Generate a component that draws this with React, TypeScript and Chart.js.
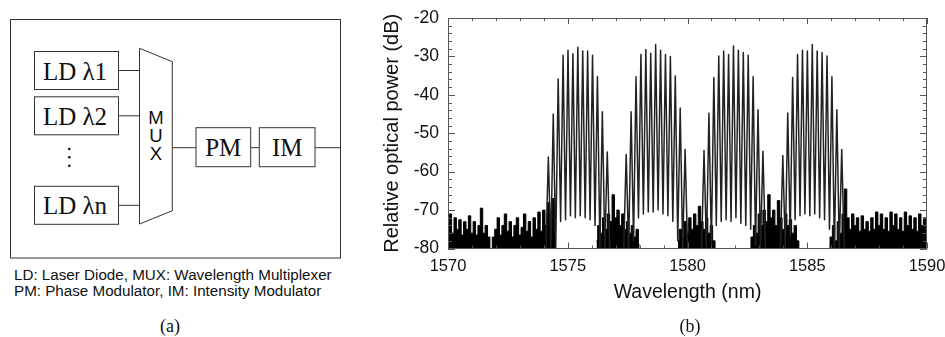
import React, { useEffect, useRef } from "react";
import { Chart, registerables } from "chart.js";

Chart.register(...registerables);

// ---------- axis ranges & tick labels ----------
const xMin = 1570;
const xMax = 1590;
const xMajorStep = 5;
const yMin = -80;
const yMax = -20;
const yMajorStep = 10;

// ---------- noise floor (dB), 0.1 nm sampling, per region ----------
const noiseStep = 0.1;
const noiseLeftStart = 1570.0;
const noiseLeft = [
  -74, -71, -76, -72, -75, -72.5, -76.5, -73, -75, -71.5,
  -76, -73, -76.5, -74, -69.5, -76, -74, -77, -80, -77,
  -75, -72, -76.5, -74, -71, -75.5, -73, -77, -74, -72,
  -76.5, -74.5, -71, -75.5, -73, -77, -72, -75, -70.5, -75.5,
  -70, -74, -68, -72, -67, -76,
];
const noiseGap1Start = 1576.2;
const noiseGap1 = [
  -78, -74, -76, -72, -75, -71, -73, -66, -72, -70,
  -74, -71, -75, -73, -76, -74, -77, -75, -79,
];
const noiseGap2Start = 1579.6;
const noiseGap2 = [
  -78, -75, -77, -73, -76, -72, -75, -71, -74, -69,
  -73, -75, -72, -76, -74, -78, -80,
];
const noiseGap3Start = 1582.6;
const noiseGap3 = [
  -80, -77, -74, -76, -71, -74, -70, -73, -66, -72,
  -70, -74, -67.5, -72, -75, -71, -74, -72.5, -76, -74,
  -78, -80,
];
const noiseRightStart = 1585.9;
const noiseRight = [
  -80, -77, -74, -78, -73, -76, -71, -64.5, -72, -75,
  -71, -74, -72, -75.5, -71.5, -75, -73, -75.5, -72, -75,
  -70.5, -74, -71, -75, -72, -75.5, -70.5, -74, -71, -75,
  -72, -75.5, -70.5, -74, -71.5, -75, -72, -75.5, -71, -74,
  -72, -75,
];

// ---------- frequency combs ----------
const combCenters = [1575.42, 1578.67, 1581.92, 1585.21];
const combSpacing = 0.205; // nm between comb lines
const comb1Peaks = [-56.2, -45.0, -35.9, -29.7, -28.4, -29.3, -27.6, -28.6, -28.6, -29.7, -35.3, -44.4, -54.9];
const comb2Peaks = [-55.5, -44.4, -35.3, -29.5, -28.2, -29.2, -26.9, -28.4, -29.5, -30.0, -35.1, -43.4, -54.2];
const comb3Peaks = [-54.5, -44.8, -35.5, -29.9, -28.6, -29.5, -27.3, -28.4, -29.0, -29.7, -35.3, -43.9, -54.7];
const comb4Peaks = [-55.8, -44.7, -35.5, -29.5, -28.4, -28.6, -26.9, -28.6, -29.0, -29.9, -35.3, -43.9, -54.2];
const comb1Valleys = [-80, -80, -80, -73, -72.5, -71.5, -72, -71.5, -72, -72.5, -74, -80, -80, -80];
const comb2Valleys = [-80, -80, -78, -72, -71, -70.5, -70.5, -70, -71, -71.5, -73, -78, -80, -80];
const comb3Valleys = [-80, -80, -79, -74, -73, -72.5, -73, -72, -73.5, -74, -75, -79, -80, -80];
const comb4Valleys = [-80, -80, -77, -72.5, -71.5, -71, -71.5, -71, -72, -72.5, -75, -80, -80, -80];

const combPeaks = [comb1Peaks, comb2Peaks, comb3Peaks, comb4Peaks];
const combValleys = [comb1Valleys, comb2Valleys, comb3Valleys, comb4Valleys];

const SANS = '"Liberation Sans", Arial, Helvetica, sans-serif';
const SERIF = '"Liberation Serif", "Times New Roman", Times, serif';

function noisePoints(start: number, values: number[]) {
  return values.map((v, i) => ({ x: +(start + i * noiseStep).toFixed(3), y: v }));
}

function combPoints(ci: number) {
  const peaks = combPeaks[ci];
  const valleys = combValleys[ci];
  const half = peaks.length >> 1;
  const pts: { x: number; y: number }[] = [];
  peaks.forEach((p, k) => {
    const lam = combCenters[ci] + (k - half) * combSpacing;
    pts.push({ x: lam - combSpacing / 2, y: valleys[k] });
    pts.push({ x: lam, y: p });
  });
  const lastLam = combCenters[ci] + (peaks.length - 1 - half) * combSpacing;
  pts.push({ x: lastLam + combSpacing / 2, y: valleys[peaks.length] });
  return pts;
}

const frameTicks = {
  id: "frameTicks",
  afterDatasetsDraw(chart: any) {
    const { ctx, chartArea: a, scales } = chart;
    const x = scales.x;
    const y = scales.y;
    ctx.save();
    ctx.strokeStyle = "#555";
    ctx.lineWidth = 1;
    ctx.beginPath();
    for (let v = yMin; v <= yMax; v += 2) {
      const py = Math.round(y.getPixelForValue(v)) + 0.5;
      const len = v % yMajorStep === 0 ? 7 : 4;
      ctx.moveTo(a.left, py);
      ctx.lineTo(a.left + len, py);
      ctx.moveTo(a.right, py);
      ctx.lineTo(a.right - len, py);
    }
    for (let v = xMin; v <= xMax; v += 1) {
      const px = Math.round(x.getPixelForValue(v)) + 0.5;
      const len = v % xMajorStep === 0 ? 6 : 3;
      ctx.moveTo(px, a.top);
      ctx.lineTo(px, a.top + len);
      ctx.moveTo(px, a.bottom);
      ctx.lineTo(px, a.bottom - len);
    }
    ctx.stroke();
    ctx.strokeRect(Math.round(a.left) + 0.5, Math.round(a.top) + 0.5, Math.round(a.width) - 1, Math.round(a.height) - 1);
    ctx.restore();
  },
};

function SpectrumChart() {
  const ref = useRef<HTMLCanvasElement | null>(null);
  useEffect(() => {
    if (!ref.current) return;
    const combSets = [0, 1, 2, 3].map((ci) => ({
      data: combPoints(ci),
      borderColor: "#222",
      borderWidth: 1.5,
      pointRadius: 0,
      fill: false,
      borderJoinStyle: "round" as const,
      tension: 0,
    }));
    const noiseSets = [
      noisePoints(noiseLeftStart, noiseLeft),
      noisePoints(noiseGap1Start, noiseGap1),
      noisePoints(noiseGap2Start, noiseGap2),
      noisePoints(noiseGap3Start, noiseGap3),
      noisePoints(noiseRightStart, noiseRight),
    ].map((d) => ({
      data: d,
      borderColor: "#000",
      backgroundColor: "#000",
      borderWidth: 1,
      pointRadius: 0,
      fill: "start" as const,
      stepped: "middle" as const,
      tension: 0,
    }));
    const chart = new Chart(ref.current, {
      type: "line",
      data: { datasets: [...combSets, ...noiseSets] as any },
      options: {
        animation: false,
        responsive: false,
        devicePixelRatio: 1,
        parsing: false,
        layout: { padding: { left: 0, right: 18, top: 18, bottom: 33 } },
        plugins: { legend: { display: false }, tooltip: { enabled: false } },
        scales: {
          x: {
            type: "linear",
            min: xMin,
            max: xMax,
            ticks: {
              stepSize: xMajorStep,
              autoSkip: false,
              maxRotation: 0,
              padding: 8,
              color: "#111",
              font: { family: SANS, size: 16.5 },
              callback: (v: any) => String(v),
            },
            grid: { display: false, drawTicks: false },
            border: { display: false },
            title: {
              display: true,
              text: "Wavelength (nm)",
              color: "#111",
              padding: 0,
              font: { family: SANS, size: 19.5 },
            },
            afterFit: (s: any) => {
              s.height = 55.5;
              s.paddingLeft = 0;
              s.paddingRight = 0;
            },
          },
          y: {
            type: "linear",
            min: yMin,
            max: yMax,
            ticks: {
              stepSize: yMajorStep,
              padding: 9,
              color: "#111",
              font: { family: SANS, size: 17.5 },
              callback: (v: any) => String(v),
            },
            grid: { display: false, drawTicks: false },
            border: { display: false },
            title: {
              display: true,
              text: "Relative optical power (dB)",
              color: "#111",
              padding: 0,
              font: { family: SANS, size: 20 },
            },
            afterFit: (s: any) => {
              s.width = 68;
              s.paddingTop = 0;
              s.paddingBottom = 0;
            },
          },
        },
      },
      plugins: [frameTicks],
    });
    return () => chart.destroy();
  }, []);
  return (
    <canvas
      ref={ref}
      width={565}
      height={337}
      style={{ position: "absolute", left: 380, top: 0, width: 565, height: 337 }}
    />
  );
}

function Diagram() {
  const stroke = "#333";
  const sw = 1;
  const ldBoxes = [
    { y: 51.5, label: "LD λ1" },
    { y: 96.8, label: "LD λ2" },
    { y: 186.3, label: "LD λn" },
  ];
  const lineY = 147.7;
  return (
    <svg
      width={380}
      height={337}
      style={{ position: "absolute", left: 0, top: 0 }}
      xmlns="http://www.w3.org/2000/svg"
    >
      <rect x={10.5} y={19.5} width={330} height={238.5} fill="none" stroke={stroke} strokeWidth={sw} />
      {ldBoxes.map((b, i) => (
        <g key={i}>
          <rect x={34.5} y={b.y} width={84} height={38} fill="#fff" stroke={stroke} strokeWidth={sw} />
          <text
            x={75}
            y={b.y + 19.5}
            textAnchor="middle"
            dominantBaseline="central"
            fontFamily={SERIF}
            fontSize={25}
            fill="#111"
          >
            {b.label}
          </text>
          <line x1={118.5} y1={b.y + 19} x2={139.5} y2={b.y + 19} stroke={stroke} strokeWidth={sw} />
        </g>
      ))}
      <circle cx={69.3} cy={149} r={1.3} fill="#111" />
      <circle cx={69.3} cy={157.3} r={1.3} fill="#111" />
      <circle cx={69.3} cy={165.7} r={1.3} fill="#111" />
      <polygon
        points="139.5,48.3 172.3,61.7 172.3,210.7 139.5,224"
        fill="#fff"
        stroke={stroke}
        strokeWidth={sw}
      />
      {["M", "U", "X"].map((c, i) => (
        <text
          key={c}
          x={156}
          y={117 + i * 18.3}
          textAnchor="middle"
          dominantBaseline="central"
          fontFamily={SANS}
          fontSize={18.5}
          fill="#111"
        >
          {c}
        </text>
      ))}
      <line x1={172.3} y1={lineY} x2={196} y2={lineY} stroke={stroke} strokeWidth={sw} />
      <rect x={196} y={127.7} width={54.7} height={39} fill="#fff" stroke={stroke} strokeWidth={sw} />
      <text x={223.3} y={147.7} textAnchor="middle" dominantBaseline="central" fontFamily={SERIF} fontSize={25} fill="#111">
        PM
      </text>
      <line x1={250.7} y1={lineY} x2={259.3} y2={lineY} stroke={stroke} strokeWidth={sw} />
      <rect x={259.3} y={127.7} width={55.7} height={39} fill="#fff" stroke={stroke} strokeWidth={sw} />
      <text x={287.2} y={147.7} textAnchor="middle" dominantBaseline="central" fontFamily={SERIF} fontSize={25} fill="#111">
        IM
      </text>
      <line x1={315} y1={lineY} x2={340.5} y2={lineY} stroke={stroke} strokeWidth={sw} />
      <text x={14} y={274} dominantBaseline="central" fontFamily={SANS} fontSize={15.2} fill="#111">
        LD: Laser Diode, MUX: Wavelength Multiplexer
      </text>
      <text x={14} y={290} dominantBaseline="central" fontFamily={SANS} fontSize={15.2} fill="#111">
        PM: Phase Modulator, IM: Intensity Modulator
      </text>
      <text x={170} y={326} textAnchor="middle" dominantBaseline="central" fontFamily={SERIF} fontSize={18} fill="#111">
        (a)
      </text>
    </svg>
  );
}

export default function App() {
  return (
    <div style={{ position: "absolute", left: 0, top: 0, width: 945, height: 337, background: "#fff", overflow: "hidden" }}>
      <Diagram />
      <SpectrumChart />
      <div
        style={{
          position: "absolute",
          left: 640,
          width: 100,
          top: 316,
          height: 20,
          lineHeight: "20px",
          textAlign: "center",
          fontFamily: SERIF,
          fontSize: 18,
          color: "#111",
        }}
      >
        (b)
      </div>
    </div>
  );
}
